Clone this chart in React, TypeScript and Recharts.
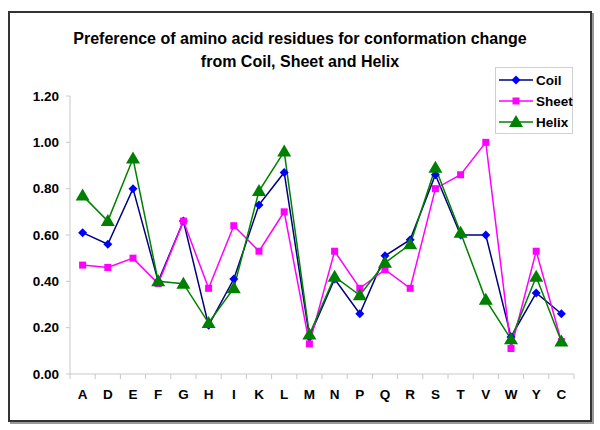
import React from "react";
import { LineChart, Line, XAxis, YAxis, CartesianGrid } from "recharts";

const residues = ["A", "D", "E", "F", "G", "H", "I", "K", "L", "M", "N", "P", "Q", "R", "S", "T", "V", "W", "Y", "C"];
const coil = [0.61, 0.56, 0.8, 0.4, 0.66, 0.21, 0.41, 0.73, 0.87, 0.16, 0.41, 0.26, 0.51, 0.58, 0.86, 0.6, 0.6, 0.16, 0.35, 0.26];
const sheet = [0.47, 0.46, 0.5, 0.39, 0.66, 0.37, 0.64, 0.53, 0.7, 0.13, 0.53, 0.37, 0.45, 0.37, 0.8, 0.86, 1.0, 0.11, 0.53, 0.14];
const helix = [0.77, 0.66, 0.93, 0.4, 0.39, 0.22, 0.37, 0.79, 0.96, 0.17, 0.42, 0.34, 0.48, 0.56, 0.89, 0.61, 0.32, 0.15, 0.42, 0.14];
const yTicks = [0, 0.2, 0.4, 0.6, 0.8, 1.0, 1.2];

const data = residues.map((r, i) => ({ r, coil: coil[i], sheet: sheet[i], helix: helix[i] }));

const FONT = "'Liberation Sans', Arial, sans-serif";
const PLOT_W = 504;
const BAND = PLOT_W / residues.length;

const Diamond = (p: any) => {
  const { cx, cy } = p;
  if (cx == null || cy == null) return null;
  const s = 4.5;
  return <polygon key={p.key} points={`${cx},${cy - s} ${cx + s},${cy} ${cx},${cy + s} ${cx - s},${cy}`} fill="#0000ff" />;
};

const Square = (p: any) => {
  const { cx, cy } = p;
  if (cx == null || cy == null) return null;
  return <rect key={p.key} x={cx - 3.5} y={cy - 3.5} width={7} height={7} fill="#ff00ff" />;
};

const Triangle = (p: any) => {
  const { cx, cy } = p;
  if (cx == null || cy == null) return null;
  return <polygon key={p.key} points={`${cx},${cy - 7} ${cx + 7},${cy + 5} ${cx - 7},${cy + 5}`} fill="#008000" />;
};

const series = [
  { key: "coil", name: "Coil", stroke: "#000080", Dot: Diamond },
  { key: "sheet", name: "Sheet", stroke: "#ff00ff", Dot: Square },
  { key: "helix", name: "Helix", stroke: "#008000", Dot: Triangle },
];

// category label plus Excel-style tick marks on the band edges
const XTick = (p: any) => {
  const { x, y, payload, index } = p;
  const left = x - BAND / 2;
  return (
    <g>
      <line x1={left} y1={y - 8} x2={left} y2={y - 3} stroke="#c8c8c8" />
      {index === residues.length - 1 && <line x1={x + BAND / 2} y1={y - 8} x2={x + BAND / 2} y2={y - 3} stroke="#c8c8c8" />}
      <text x={x} y={y + 17} textAnchor="middle" fontFamily={FONT} fontWeight="bold" fontSize={13.5} fill="#000">
        {payload.value}
      </text>
    </g>
  );
};

export default function App() {
  return (
    <div style={{ position: "absolute", left: 0, top: 0, width: 600, height: 430, background: "#fff" }}>
      <div
        style={{
          position: "absolute",
          left: 8,
          top: 11,
          width: 580,
          height: 407,
          border: "2px solid #333",
          boxShadow: "2px 2px 0 #999",
        }}
      />
      <div
        style={{
          position: "absolute",
          left: 0,
          top: 27,
          width: 600,
          textAlign: "center",
          fontFamily: FONT,
          fontWeight: "bold",
          fontSize: 16,
          lineHeight: "23px",
          color: "#000",
        }}
      >
        Preference of amino acid residues for conformation change
        <br />
        from Coil, Sheet and Helix
      </div>
      <div style={{ position: "absolute", left: 0, top: 0 }}>
        <LineChart width={600} height={430} data={data} margin={{ top: 96, right: 26, bottom: 26, left: 10 }}>
          <CartesianGrid horizontal={false} vertical={false} />
          <XAxis
            dataKey="r"
            scale="band"
            height={30}
            axisLine={{ stroke: "#c8c8c8" }}
            tickLine={false}
            interval={0}
            tick={<XTick />}
          />
          <YAxis
            width={60}
            domain={[0, 1.2]}
            ticks={yTicks}
            interval={0}
            axisLine={{ stroke: "#c8c8c8" }}
            tickLine={{ stroke: "#c8c8c8" }}
            tickSize={4}
            tickMargin={7}
            tickFormatter={(v: number) => v.toFixed(2)}
            tick={{ fontFamily: FONT, fontWeight: "bold", fontSize: 13.5, fill: "#000" }}
          />
          {series.map((s) => (
            <Line
              key={s.key}
              type="linear"
              dataKey={s.key}
              name={s.name}
              stroke={s.stroke}
              strokeWidth={1.5}
              dot={s.Dot}
              activeDot={false}
              isAnimationActive={false}
            />
          ))}
        </LineChart>
      </div>
      <div
        style={{
          position: "absolute",
          left: 495,
          top: 67,
          width: 76,
          height: 65,
          border: "1px solid #d0d0d0",
          background: "#fff",
          fontFamily: FONT,
          fontWeight: "bold",
          fontSize: 13.5,
        }}
      >
        {series.map((s, i) => (
          <div key={s.key} style={{ position: "absolute", left: 3, top: 3 + i * 21, height: 18, display: "flex", alignItems: "center" }}>
            <svg width={34} height={16}>
              <line x1={0} y1={8} x2={34} y2={8} stroke={s.stroke} strokeWidth={1.5} />
              {s.Dot({ cx: 17, cy: 8 })}
            </svg>
            <span style={{ marginLeft: 3 }}>{s.name}</span>
          </div>
        ))}
      </div>
    </div>
  );
}
